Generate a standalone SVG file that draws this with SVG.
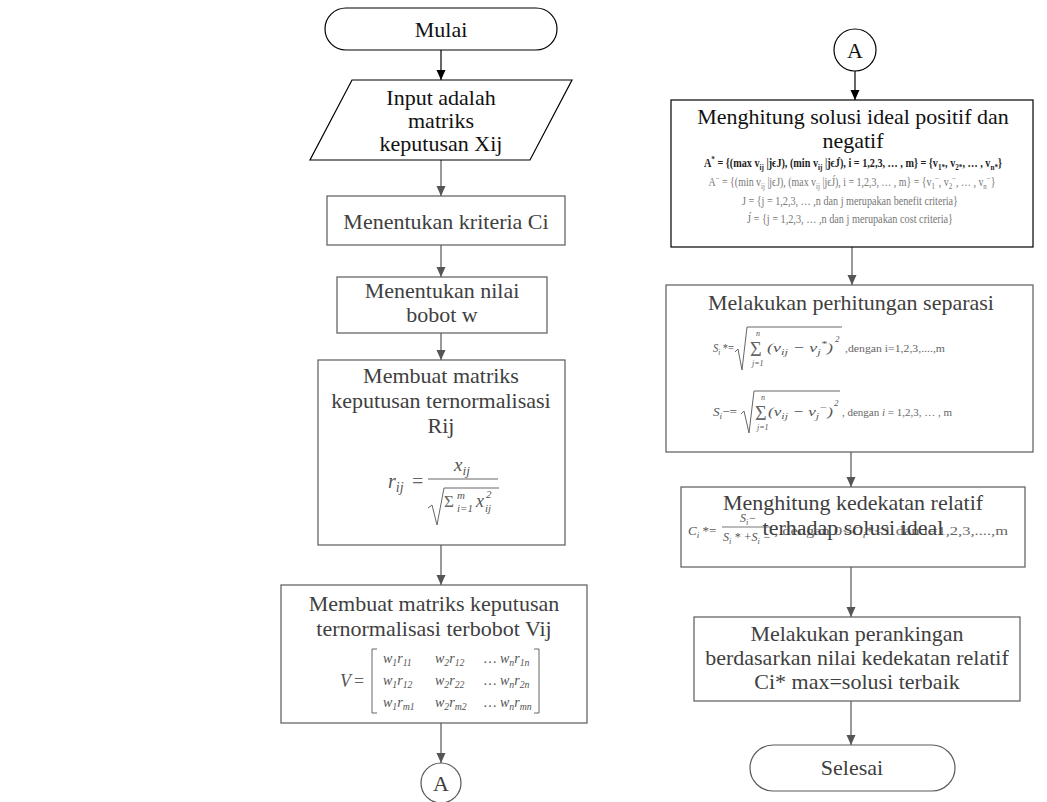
<svg xmlns="http://www.w3.org/2000/svg" width="1047" height="802" viewBox="0 0 1047 802">
<defs>
<marker id="ak" markerWidth="10" markerHeight="10" refX="10" refY="5" orient="auto" markerUnits="userSpaceOnUse"><path d="M0,0.5 L10,5 L0,9.5 z" fill="#000"/></marker>
<marker id="ag" markerWidth="10" markerHeight="10" refX="10" refY="5" orient="auto" markerUnits="userSpaceOnUse"><path d="M0,0.5 L10,5 L0,9.5 z" fill="#555"/></marker>
<style>
.t{font-family:"Liberation Serif","Times New Roman",serif;font-size:22px;text-anchor:middle}
.k{fill:#111}
.g{fill:#404040}
.bk{fill:#fff;stroke:#000;stroke-width:1.2}
.bg{fill:#fff;stroke:#5a5a5a;stroke-width:1.2}
.m{font-family:"Liberation Serif","Times New Roman",serif;font-style:italic;fill:#555}
.f{font-family:"Liberation Serif","Times New Roman",serif;fill:#666}
.sb{font-size:70%;baseline-shift:-0.3em}
.sp{font-size:70%;baseline-shift:0.6em}
.ck{stroke:#000;stroke-width:1.2;fill:none;marker-end:url(#ak)}
.cg{stroke:#555;stroke-width:1.2;fill:none;marker-end:url(#ag)}
.rad{stroke:#666;stroke-width:1;fill:none}
</style>
</defs>
<rect x="0" y="0" width="1047" height="802" fill="#fff"/>

<g id="connectors">
<line class="ck" x1="441" y1="50" x2="441" y2="80"/>
<line class="cg" x1="441" y1="160" x2="441" y2="196"/>
<line class="cg" x1="441" y1="245" x2="441" y2="277"/>
<line class="cg" x1="441" y1="333" x2="441" y2="360"/>
<line class="cg" x1="441" y1="545" x2="441" y2="585"/>
<line class="cg" x1="441" y1="723" x2="441" y2="763"/>
<line class="ck" x1="855" y1="71" x2="855" y2="100"/>
<line class="cg" x1="852" y1="247" x2="852" y2="285"/>
<line class="cg" x1="851" y1="452" x2="851" y2="487"/>
<line class="cg" x1="851" y1="567" x2="851" y2="617"/>
<line class="cg" x1="851" y1="701" x2="851" y2="745"/>
</g>

<g id="mulai">
<rect class="bk" x="325" y="8" width="232" height="42" rx="21"/>
<text class="t k" x="441" y="37">Mulai</text>
</g>

<g id="input">
<polygon class="bk" points="352,80 572,80 530,160 310,160"/>
<text class="t k" x="441" y="105">Input adalah</text>
<text class="t k" x="441" y="128">matriks</text>
<text class="t k" x="441" y="151">keputusan Xij</text>
</g>

<g id="kriteria">
<rect class="bg" x="327" y="196" width="238" height="49"/>
<text class="t g" x="446" y="229">Menentukan kriteria Ci</text>
</g>

<g id="bobot">
<rect class="bg" x="337" y="277" width="210" height="56"/>
<text class="t g" x="442" y="298">Menentukan nilai</text>
<text class="t g" x="442" y="322">bobot w</text>
</g>

<g id="normalisasi">
<rect class="bg" x="318" y="360" width="247" height="185"/>
<text class="t g" x="441" y="383">Membuat matriks</text>
<text class="t g" x="441" y="408">keputusan ternormalisasi</text>
<text class="t g" x="441" y="433">Rij</text>
<text class="m" x="388" y="488" font-size="20">r<tspan class="sb">ij</tspan></text>
<text class="f" x="412" y="488" font-size="20">=</text>
<line x1="428" y1="479" x2="498" y2="479" stroke="#666" stroke-width="1.2"/>
<text class="m" x="454" y="471" font-size="19">x<tspan class="sb">ij</tspan></text>
<path class="rad" d="M428,508 L432,505 L437,525 L444,488 L499,488"/>
<text class="f" x="444" y="507" font-size="17">Σ</text>
<text class="m" x="457" y="499" font-size="11">m</text>
<text class="m" x="457" y="512" font-size="11">i=1</text>
<text class="m" x="476" y="507" font-size="18">x</text>
<text class="m" x="486" y="498" font-size="11">2</text>
<text class="m" x="485" y="512" font-size="11">ij</text>
</g>

<g id="terbobot">
<rect class="bg" x="281" y="585" width="306" height="138"/>
<text class="t g" x="434" y="611">Membuat matriks keputusan</text>
<text class="t g" x="434" y="636">ternormalisasi terbobot Vij</text>
<text class="m" x="340" y="687" font-size="18">V</text>
<text class="f" x="354" y="687" font-size="18">=</text>
<path class="rad" d="M377,649 L372,649 L372,713 L377,713"/>
<path class="rad" d="M534,649 L539,649 L539,713 L534,713"/>
<g class="m" font-size="14">
<text x="383" y="663">w<tspan class="sb">1</tspan>r<tspan class="sb">11</tspan></text>
<text x="435" y="663">w<tspan class="sb">2</tspan>r<tspan class="sb">12</tspan></text>
<text x="484" y="663">… w<tspan class="sb">n</tspan>r<tspan class="sb">1n</tspan></text>
<text x="383" y="685">w<tspan class="sb">1</tspan>r<tspan class="sb">12</tspan></text>
<text x="435" y="685">w<tspan class="sb">2</tspan>r<tspan class="sb">22</tspan></text>
<text x="484" y="685">… w<tspan class="sb">n</tspan>r<tspan class="sb">2n</tspan></text>
<text x="383" y="707">w<tspan class="sb">1</tspan>r<tspan class="sb">m1</tspan></text>
<text x="435" y="707">w<tspan class="sb">2</tspan>r<tspan class="sb">m2</tspan></text>
<text x="484" y="707">… w<tspan class="sb">n</tspan>r<tspan class="sb">mn</tspan></text>
</g>
</g>

<g id="connector-a-bottom">
<circle cx="441" cy="783" r="20" fill="#fff" stroke="#555" stroke-width="1.2"/>
<text class="t g" x="441" y="791">A</text>
</g>

<g id="connector-a-top">
<circle cx="855" cy="50" r="21" fill="#fff" stroke="#000" stroke-width="1.2"/>
<text class="t k" x="855" y="58">A</text>
</g>

<g id="solusi-ideal">
<rect class="bk" x="671" y="100" width="362" height="147"/>
<text class="t k" x="853" y="124">Menghitung solusi ideal positif dan</text>
<text class="t k" x="853" y="148">negatif</text>
<text x="853" y="167" text-anchor="middle" font-family="Liberation Serif, serif" font-size="12.5" font-weight="bold" fill="#222" textLength="298" lengthAdjust="spacingAndGlyphs">A<tspan class="sp">*</tspan> = {(max v<tspan class="sb">ij</tspan> |jϵJ), (min v<tspan class="sb">ij</tspan> |jϵJ́), i = 1,2,3, … , m} = {v<tspan class="sb">1*</tspan>, v<tspan class="sb">2*</tspan>, … , v<tspan class="sb">n*</tspan>}</text>
<text x="852" y="186" text-anchor="middle" font-family="Liberation Serif, serif" font-size="12.5" fill="#777" textLength="287" lengthAdjust="spacingAndGlyphs">A<tspan class="sp">−</tspan> = {(min v<tspan class="sb">ij</tspan> |jϵJ), (max v<tspan class="sb">ij</tspan> |jϵJ́), i = 1,2,3, … , m} = {v<tspan class="sb">1</tspan><tspan class="sp">−</tspan>, v<tspan class="sb">2</tspan><tspan class="sp">−</tspan>, … , v<tspan class="sb">n</tspan><tspan class="sp">−</tspan>}</text>
<text x="850" y="205" text-anchor="middle" font-family="Liberation Serif, serif" font-size="12.5" fill="#777" textLength="216" lengthAdjust="spacingAndGlyphs">J = {j = 1,2,3, … ,n dan j merupakan benefit criteria}</text>
<text x="850" y="223" text-anchor="middle" font-family="Liberation Serif, serif" font-size="12.5" fill="#777" textLength="206" lengthAdjust="spacingAndGlyphs">J́ = {j = 1,2,3, … ,n dan j merupakan cost criteria}</text>
</g>

<g id="separasi">
<rect class="bg" x="666" y="285" width="367" height="167"/>
<text class="t g" x="851" y="310">Melakukan perhitungan separasi</text>
<text class="m" x="713" y="352" font-size="13" textLength="21" lengthAdjust="spacingAndGlyphs">S<tspan class="sb">i</tspan><tspan font-style="normal"> *=</tspan></text>
<path class="rad" d="M735,352 L738,349 L742,370 L747,327 L842,327"/>
<text class="f" x="750" y="356" font-size="20">Σ</text>
<text class="m" x="756" y="336" font-size="8">n</text>
<text class="m" x="752" y="366" font-size="8">j=1</text>
<text class="m" x="767" y="352" font-size="13" textLength="66" lengthAdjust="spacingAndGlyphs">(v<tspan class="sb">ij</tspan> − v<tspan class="sb">j</tspan><tspan class="sp">*</tspan>)</text>
<text class="m" x="835" y="342" font-size="9">2</text>
<text class="f" x="845" y="352" font-size="11" textLength="100" lengthAdjust="spacingAndGlyphs">,dengan i=1,2,3,....,m</text>
<text class="m" x="713" y="416" font-size="13" textLength="24" lengthAdjust="spacingAndGlyphs">S<tspan class="sb">i</tspan><tspan font-style="normal">−=</tspan></text>
<path class="rad" d="M741,414 L744,411 L749,433 L754,391 L840,391"/>
<text class="f" x="755" y="420" font-size="20">Σ</text>
<text class="m" x="761" y="400" font-size="8">n</text>
<text class="m" x="757" y="430" font-size="8">j=1</text>
<text class="m" x="768" y="416" font-size="13" textLength="65" lengthAdjust="spacingAndGlyphs">(v<tspan class="sb">ij</tspan> − v<tspan class="sb">j</tspan><tspan class="sp">−</tspan>)</text>
<text class="m" x="834" y="406" font-size="9">2</text>
<text class="f" x="842" y="416" font-size="11" textLength="110" lengthAdjust="spacingAndGlyphs">, dengan <tspan font-style="italic">i</tspan> = 1,2,3, … , m</text>
</g>

<g id="kedekatan">
<rect class="bg" x="681" y="487" width="344" height="80"/>
<text class="m" x="688" y="535" font-size="13">C<tspan class="sb">i</tspan><tspan font-style="normal"> *=</tspan></text>
<text class="m" x="740" y="522" font-size="12">S<tspan class="sb">i</tspan>−</text>
<line x1="722" y1="527" x2="772" y2="527" stroke="#777" stroke-width="1"/>
<text class="m" x="723" y="541" font-size="12" textLength="48" lengthAdjust="spacingAndGlyphs">S<tspan class="sb">i</tspan> * +S<tspan class="sb">i</tspan> −</text>
<text class="f" x="774" y="535" font-size="12" textLength="234" lengthAdjust="spacingAndGlyphs">, dengan 0&lt;<tspan font-style="italic">C<tspan class="sb">i</tspan></tspan>*&lt;1 dan i=1,2,3,....,m</text>
<text class="t g" x="853" y="510">Menghitung kedekatan relatif</text>
<text class="t g" x="853" y="535">terhadap solusi ideal</text>
</g>

<g id="perankingan">
<rect class="bg" x="694" y="617" width="326" height="84"/>
<text class="t g" x="857" y="641">Melakukan perankingan</text>
<text class="t g" x="857" y="665">berdasarkan nilai kedekatan relatif</text>
<text class="t g" x="857" y="689">Ci* max=solusi terbaik</text>
</g>

<g id="selesai">
<rect class="bg" x="750" y="745" width="205" height="46" rx="23"/>
<text class="t g" x="852" y="775">Selesai</text>
</g>
</svg>
